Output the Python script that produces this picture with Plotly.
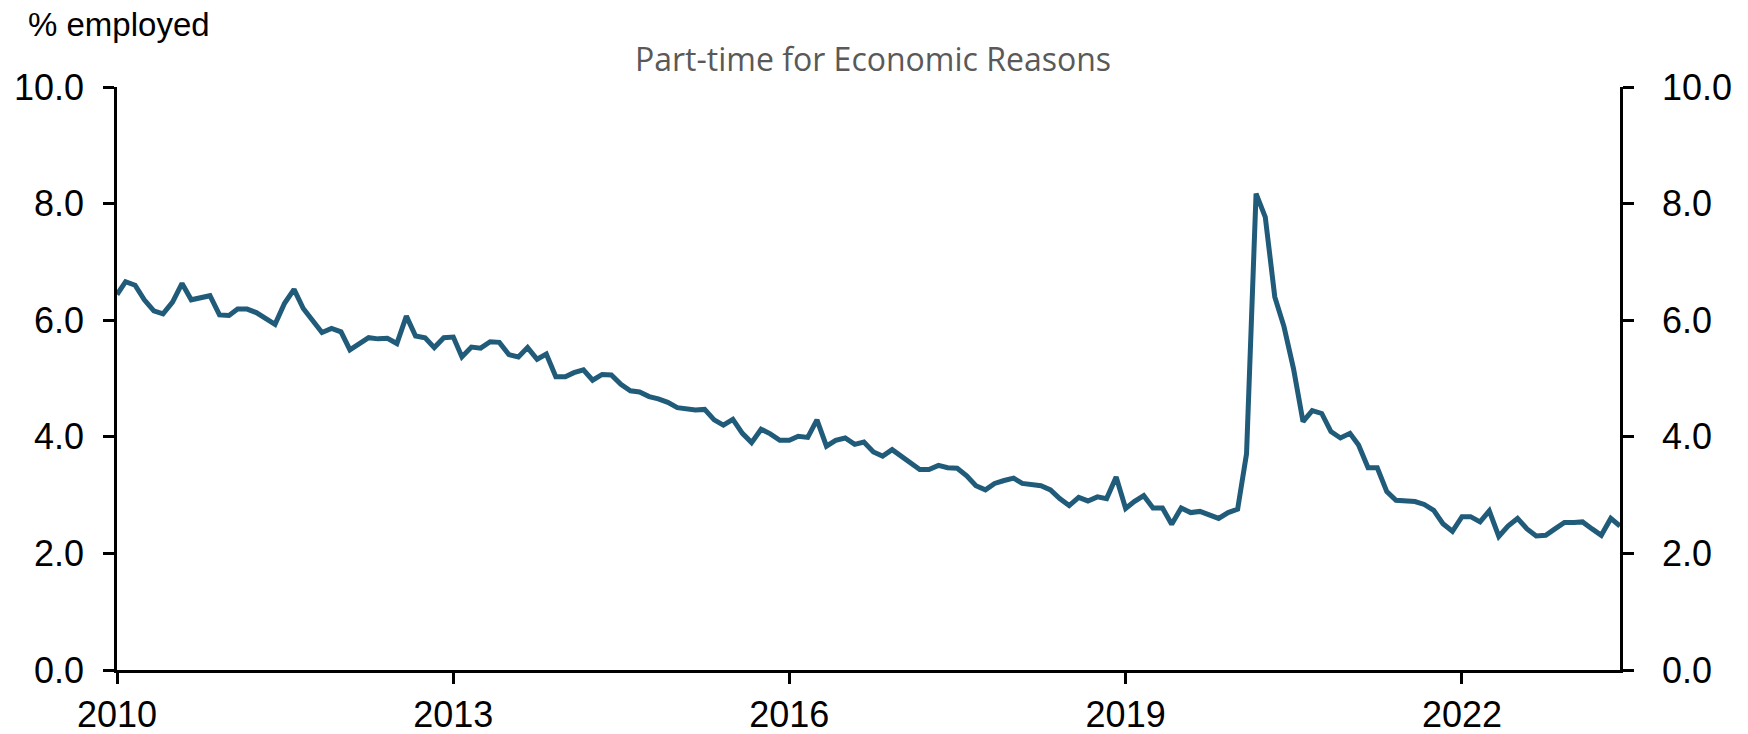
import pandas as pd
import plotly.graph_objects as go

# Monthly data, Feb 2010 - Jul 2023 (% of employed, part-time for economic reasons)
start_month = "2010-02-01"
values = [
    6.44, 6.66, 6.60, 6.35, 6.16, 6.11, 6.31, 6.63, 6.35, 6.38, 6.42, 6.09,
    6.08, 6.19, 6.19, 6.13, 6.03, 5.93, 6.29, 6.53, 6.20, 6.00, 5.79, 5.86,
    5.80, 5.49, 5.59, 5.70, 5.68, 5.69, 5.60, 6.07, 5.73, 5.70, 5.53, 5.70,
    5.71, 5.37, 5.54, 5.52, 5.63, 5.62, 5.41, 5.37, 5.53, 5.33, 5.42, 5.03,
    5.03, 5.10, 5.15, 4.97, 5.07, 5.06, 4.90, 4.79, 4.77, 4.69, 4.65, 4.59,
    4.50, 4.48, 4.46, 4.47, 4.29, 4.20, 4.30, 4.06, 3.90, 4.13, 4.05, 3.94,
    3.94, 4.01, 3.99, 4.29, 3.84, 3.94, 3.98, 3.87, 3.91, 3.74, 3.67, 3.78,
    3.66, 3.57, 3.44, 3.44, 3.51, 3.47, 3.46, 3.33, 3.16, 3.09, 3.20, 3.25,
    3.29, 3.20, 3.17, 3.16, 3.09, 2.94, 2.82, 2.96, 2.90, 2.97, 2.94, 3.31,
    2.77, 2.89, 2.99, 2.78, 2.78, 2.50, 2.78, 2.70, 2.72, 2.65, 2.60, 2.70,
    2.76, 3.71, 8.17, 7.77, 6.40, 5.89, 5.17, 4.26, 4.45, 4.40, 4.09, 3.98,
    4.06, 3.86, 3.47, 3.47, 3.06, 2.91, 2.91, 2.89, 2.84, 2.74, 2.51, 2.38,
    2.63, 2.63, 2.54, 2.73, 2.29, 2.47, 2.60, 2.42, 2.30, 2.31, 2.42, 2.53,
    2.53, 2.54, 2.42, 2.31, 2.60, 2.47,
]
dates = pd.date_range(start_month, periods=len(values), freq="MS")

x_tick_vals = ["2010-02-01", "2013-02-01", "2016-02-01", "2019-02-01", "2022-02-01"]
x_tick_text = ["2010", "2013", "2016", "2019", "2022"]
y_tick_vals = [0, 2, 4, 6, 8, 10]
y_tick_text = ["0.0", "2.0", "4.0", "6.0", "8.0", "10.0"]

title_text = "Part-time for Economic Reasons"
unit_text = "% employed"

LINE_COLOR = "#215B7A"
FONT = "Liberation Sans, Arial, sans-serif"

fig = go.Figure()
fig.add_trace(go.Scatter(
    x=dates, y=values, mode="lines",
    line=dict(color=LINE_COLOR, width=5),
    showlegend=False, cliponaxis=False,
))
# invisible trace to carry the right-hand axis
fig.add_trace(go.Scatter(
    x=dates, y=values, mode="lines", yaxis="y2",
    line=dict(color="rgba(0,0,0,0)", width=0),
    showlegend=False, hoverinfo="skip",
))

axis_common = dict(
    showgrid=False, zeroline=False, showline=True, linecolor="black",
    linewidth=2.5, ticks="outside", ticklen=11, tickwidth=2.5,
    tickcolor="black", tickfont=dict(family=FONT, size=36, color="black"),
    automargin=False,
)

# the page places the figure 8px in from the top-left corner
fig.update_layout(
    width=1740, height=726,
    margin=dict(l=109, r=128, t=79, b=64),
    paper_bgcolor="white", plot_bgcolor="white",
    xaxis=dict(
        range=[dates[0], dates[-1]], tickmode="array",
        tickvals=x_tick_vals, ticktext=x_tick_text,
        ticklabelstandoff=0,
        **axis_common,
    ),
    yaxis=dict(
        range=[0, 10], tickmode="array",
        tickvals=y_tick_vals, ticktext=y_tick_text,
        ticklabelstandoff=12,
        **axis_common,
    ),
    yaxis2=dict(
        range=[0, 10], tickmode="array", overlaying="y", side="right",
        tickvals=y_tick_vals, ticktext=y_tick_text,
        ticklabelstandoff=21,
        **axis_common,
    ),
    annotations=[
        dict(text=title_text, xref="paper", yref="paper", x=0.503, y=1.0,
             yshift=29, yanchor="middle", xanchor="center", showarrow=False,
             font=dict(family="Open Sans, sans-serif", size=32, color="#595959")),
        dict(text=unit_text, xref="paper", yref="paper", x=0.0, y=1.0,
             xshift=-91, yshift=63, xanchor="left", yanchor="middle",
             showarrow=False,
             font=dict(family=FONT, size=33, color="black")),
    ],
)

fig.write_html("out.html")
